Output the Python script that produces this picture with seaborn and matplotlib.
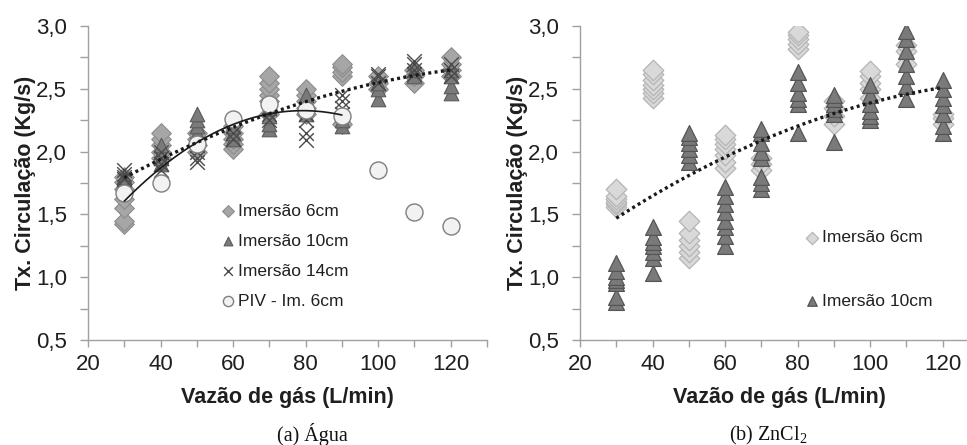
import numpy as np
import pandas as pd
import matplotlib
matplotlib.use("Agg")
import matplotlib.pyplot as plt
import seaborn as sns

# ---------------- data ----------------
vazao = [30, 40, 50, 60, 70, 80, 90, 100, 110, 120]

# (a) Agua
agua_6cm = [[1.42, 1.45, 1.55, 1.62, 1.70, 1.76, 1.80],
            [1.95, 2.00, 2.05, 2.10, 2.15],
            [2.00, 2.05, 2.10, 2.15],
            [2.02, 2.06, 2.10, 2.15, 2.20],
            [2.30, 2.40, 2.45, 2.50, 2.55, 2.60],
            [2.30, 2.35, 2.40, 2.45, 2.50],
            [2.22, 2.60, 2.63, 2.67, 2.70],
            [2.50, 2.55, 2.60],
            [2.55, 2.60, 2.65],
            [2.60, 2.65, 2.70, 2.75]]
agua_10cm = [[1.72, 1.75, 1.78, 1.80],
             [1.90, 1.95, 2.00, 2.05],
             [2.10, 2.15, 2.20, 2.25, 2.30],
             [2.10, 2.15, 2.20],
             [2.18, 2.22, 2.28, 2.35],
             [2.30, 2.35, 2.40, 2.45],
             [2.20, 2.25, 2.30],
             [2.42, 2.50, 2.55],
             [2.60, 2.65],
             [2.47, 2.52, 2.60, 2.65]]
agua_14cm = [[1.78, 1.80, 1.82, 1.85],
             [1.85, 1.90, 1.95, 2.00],
             [1.92, 1.95, 2.00, 2.05],
             [2.10, 2.15, 2.20],
             [2.25, 2.30, 2.35],
             [2.09, 2.15, 2.25, 2.30],
             [2.30, 2.35, 2.40, 2.45],
             [2.55, 2.60, 2.62],
             [2.62, 2.65, 2.70, 2.72],
             [2.60, 2.65, 2.70]]
agua_piv = [1.67, 1.75, 2.06, 2.26, 2.38, 2.33, 2.28, 1.85, 1.52, 1.41]
agua_trend = [1.81, 1.93, 2.05, 2.19, 2.30, 2.41, 2.49, 2.55, 2.61, 2.64]
piv_trend_x = [30, 40, 50, 60, 70, 80, 90]
piv_trend = [1.60, 1.88, 2.07, 2.21, 2.30, 2.33, 2.29]

# (b) ZnCl2
zn_6cm = [[1.56, 1.58, 1.60, 1.62, 1.65, 1.70],
          [2.43, 2.47, 2.50, 2.53, 2.57, 2.62, 2.65],
          [1.15, 1.20, 1.25, 1.30, 1.35, 1.45],
          [1.87, 1.92, 1.97, 2.02, 2.06, 2.10, 2.13],
          [1.85, 1.90, 1.95],
          [2.82, 2.86, 2.90, 2.93, 2.95],
          [2.22, 2.28, 2.35, 2.40],
          [2.43, 2.50, 2.55, 2.60, 2.64],
          [2.70, 2.80, 2.85],
          [2.22, 2.27, 2.30]]
zn_10cm = [[0.80, 0.84, 0.95, 0.98, 1.00, 1.05, 1.11],
           [1.03, 1.15, 1.20, 1.25, 1.28, 1.32, 1.40],
           [1.92, 1.97, 2.02, 2.07, 2.12, 2.15],
           [1.25, 1.33, 1.40, 1.45, 1.52, 1.58, 1.65, 1.72],
           [1.70, 1.75, 1.80, 1.95, 2.00, 2.07, 2.15, 2.18],
           [2.15, 2.38, 2.42, 2.47, 2.55, 2.63],
           [2.08, 2.30, 2.34, 2.38, 2.42, 2.45],
           [2.25, 2.28, 2.32, 2.38, 2.45, 2.53],
           [2.42, 2.52, 2.60, 2.70, 2.80, 2.90, 2.96],
           [2.15, 2.20, 2.30, 2.37, 2.43, 2.50, 2.57]]
zn_trend = [1.47, 1.64, 1.82, 1.96, 2.08, 2.20, 2.31, 2.38, 2.46, 2.51]

y_ticks = [0.5, 1.0, 1.5, 2.0, 2.5, 3.0]
x_ticks = [20, 40, 60, 80, 100, 120]


def long(groups):
    xs, ys = [], []
    for xv, vals in zip(vazao, groups):
        xs += [xv] * len(vals)
        ys += vals
    return pd.DataFrame({"x": xs, "y": ys})


# ---------------- style ----------------
sns.set_theme(style="white")
plt.rcParams["font.family"] = ["Liberation Sans", "DejaVu Sans"]
plt.rcParams["mathtext.fontset"] = "custom"
plt.rcParams["mathtext.rm"] = "Liberation Serif"
plt.rcParams["mathtext.it"] = "Liberation Serif:italic"

W, H = 967, 445
fig = plt.figure(figsize=(W / 100, H / 100), dpi=100)
axL = fig.add_axes([88 / W, (H - 340) / H, 399 / W, 314 / H])
axR = fig.add_axes([580 / W, (H - 340) / H, 399 / W, 314 / H])

TXT = "#1f1f1f"
SPINE = "#a0a0a0"

# ---------------- panel (a) ----------------
sns.scatterplot(data=long(agua_6cm), x="x", y="y", ax=axL, marker="D", s=100,
                color="#a6a6a6", edgecolor="#8c8c8c", linewidth=0.8,
                label="Imersão 6cm", zorder=3)
sns.scatterplot(data=long(agua_10cm), x="x", y="y", ax=axL, marker="^", s=110,
                color="#7a7a7a", edgecolor="#5a5a5a", linewidth=0.8,
                label="Imersão 10cm", zorder=3)
sns.scatterplot(data=long(agua_14cm), x="x", y="y", ax=axL, marker="x", s=110,
                color="#4a4a4a", linewidth=1.0,
                label="Imersão 14cm", zorder=3)
sns.scatterplot(x=vazao, y=agua_piv, ax=axL, marker="o", s=150,
                color="#f2f2f2", edgecolor="#7f7f7f", linewidth=1.0,
                label="PIV - Im. 6cm", zorder=4)
sns.regplot(x=vazao, y=agua_trend, ax=axL, order=2, ci=None, scatter=False,
            line_kws=dict(color="#1a1a1a", lw=2.4, ls=(0, (0.9, 1.0)), zorder=5))
sns.regplot(x=piv_trend_x, y=piv_trend, ax=axL, order=2, ci=None, scatter=False,
            line_kws=dict(color="#1a1a1a", lw=1.2, zorder=5))

# ---------------- panel (b) ----------------
sns.scatterplot(data=long(zn_6cm), x="x", y="y", ax=axR, marker="D", s=110,
                color="#d9d9d9", edgecolor="#b5b5b5", linewidth=0.9,
                label="Imersão 6cm", zorder=3)
sns.scatterplot(data=long(zn_10cm), x="x", y="y", ax=axR, marker="^", s=130,
                color="#7a7a7a", edgecolor="#555555", linewidth=0.9,
                label="Imersão 10cm", zorder=3)
sns.regplot(x=vazao, y=zn_trend, ax=axR, order=2, ci=None, scatter=False,
            line_kws=dict(color="#1a1a1a", lw=2.4, ls=(0, (0.9, 1.0)), zorder=5))

for ax in (axL, axR):
    ax.set_xlim(20, 130)
    ax.set_ylim(0.5, 3.0)
    ax.set_xticks(x_ticks)
    ax.set_xticks(np.arange(20, 131, 10), minor=True)
    ax.set_yticks(y_ticks)
    ax.set_yticks(np.arange(0.5, 3.01, 0.25), minor=True)
    ax.set_yticklabels([f"{v:.1f}".replace(".", ",") for v in y_ticks])
    ax.set_xticklabels([str(v) for v in x_ticks])
    for side in ("top", "right"):
        ax.spines[side].set_visible(False)
    for side in ("left", "bottom"):
        ax.spines[side].set_color(SPINE)
        ax.spines[side].set_linewidth(1.0)
    ax.tick_params(which="both", direction="out", color=SPINE, width=1.0,
                   left=True, bottom=True)
    ax.tick_params(which="both", axis="y", length=6)
    ax.tick_params(which="both", axis="x", length=5)
    ax.tick_params(which="major", labelsize=16, labelcolor=TXT)
    ax.tick_params(which="major", axis="y", pad=9)
    ax.tick_params(which="major", axis="x", pad=5)
    ax.set_xlabel("Vazão de gás (L/min)", fontsize=15.5, fontweight="bold",
                  color=TXT, labelpad=9)
    ax.set_ylabel("Tx. Circulação (Kg/s)", fontsize=15.5, fontweight="bold",
                  color=TXT, labelpad=0)
    ax.grid(False)

legL = axL.legend(loc="upper left", bbox_to_anchor=(0.335, 0.434), frameon=False,
                  fontsize=12.5, handlelength=0.7, handletextpad=0.25,
                  labelspacing=0.85, borderpad=0, borderaxespad=0,
                  markerscale=0.6)
legR = axR.legend(loc="upper left", bbox_to_anchor=(0.565, 0.35), frameon=False,
                  fontsize=12.5, handlelength=0.7, handletextpad=0.25,
                  labelspacing=2.8, borderpad=0, borderaxespad=0,
                  markerscale=0.6)
for leg in (legL, legR):
    for t in leg.get_texts():
        t.set_color(TXT)

fig.text(312 / W, 1 - 435 / H, "(a) Água", ha="center", va="center",
         fontsize=14.5, family=["Liberation Serif", "DejaVu Serif"], color="#111111")
fig.text(768 / W, 1 - 435 / H, r"(b) ZnCl$_\mathrm{2}$", ha="center", va="center",
         fontsize=14.5, family=["Liberation Serif", "DejaVu Serif"], color="#111111")

fig.savefig("out.png", dpi=100)
